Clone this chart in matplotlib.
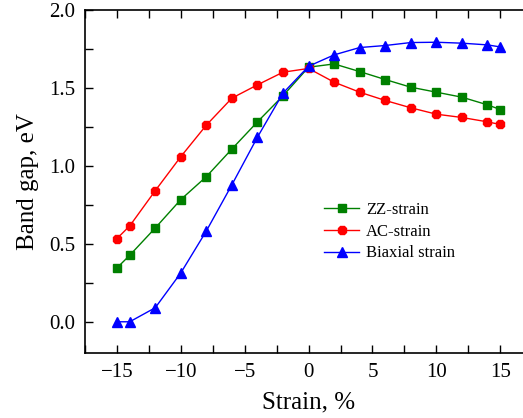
import matplotlib
matplotlib.use("Agg")
import matplotlib.pyplot as plt
from matplotlib.ticker import MultipleLocator, FormatStrFormatter

# ---------------------------------------------------------------------------
# Data
# ---------------------------------------------------------------------------
strain = [-15, -14, -12, -10, -8, -6, -4, -2, 0, 2, 4, 6, 8, 10, 12, 14, 15]

zz_gap = [0.345, 0.426, 0.601, 0.783, 0.930, 1.107, 1.281, 1.448, 1.631,
          1.652, 1.603, 1.552, 1.503, 1.471, 1.439, 1.390, 1.360]
ac_gap = [0.533, 0.614, 0.840, 1.058, 1.260, 1.433, 1.518, 1.599, 1.623,
          1.535, 1.471, 1.418, 1.371, 1.330, 1.309, 1.281, 1.264]
bi_gap = [0.0, 0.0, 0.09, 0.313, 0.582, 0.878, 1.183, 1.465, 1.637,
          1.710, 1.757, 1.770, 1.789, 1.791, 1.785, 1.774, 1.761]

labels = ["ZZ-strain", "AC-strain", "Biaxial strain"]

plt.rcParams["font.family"] = ["Liberation Serif", "DejaVu Serif"]

fig = plt.figure(figsize=(5.23, 4.18), dpi=100)
ax = fig.add_axes([0.1625, 0.1555, 0.855, 0.8215])

ax.plot(strain, zz_gap, color="#008000", marker="s", ms=6, lw=1, label=labels[0])
ax.plot(strain, ac_gap, color="#ff0000", marker="8", ms=7, lw=1, label=labels[1])
ax.plot(strain, bi_gap, color="#0000ff", marker="^", ms=7.5, lw=1, label=labels[2])

ax.set_xlim(-17.5, 17.5)
ax.set_ylim(-0.2, 2.0)
ax.xaxis.set_major_locator(MultipleLocator(5))
ax.xaxis.set_minor_locator(MultipleLocator(2.5))
ax.yaxis.set_major_locator(MultipleLocator(0.5))
ax.yaxis.set_minor_locator(MultipleLocator(0.25))
ax.yaxis.set_major_formatter(FormatStrFormatter("%.1f"))

ax.tick_params(which="both", direction="in", top=True, right=True,
               labelsize=15, width=1, length=6, pad=7)
for s in ax.spines.values():
    s.set_linewidth(1.2)

ax.set_xlabel("Strain, %", fontsize=18, labelpad=7)
ax.set_ylabel("Band gap, eV", fontsize=18, labelpad=7)

ax.legend(loc="upper left", bbox_to_anchor=(0.52, 0.46), frameon=False,
          fontsize=12, handlelength=2.1, handletextpad=0.4, labelspacing=0.35,
          borderaxespad=0)

fig.savefig("out.png", dpi=100)
